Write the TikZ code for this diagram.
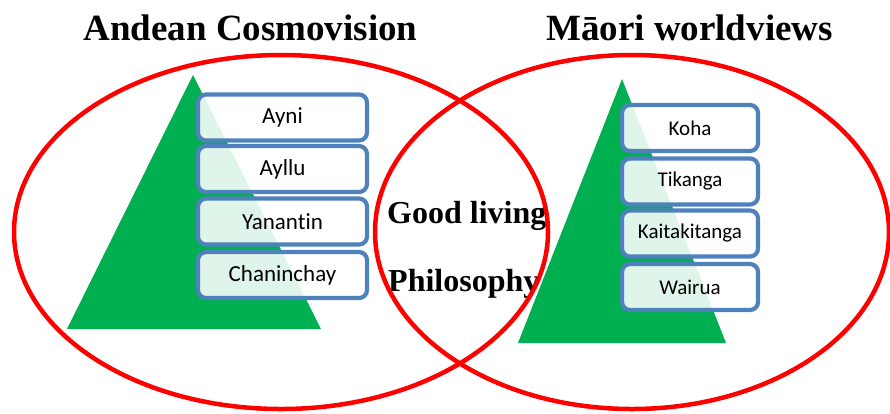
\documentclass[tikz,border=0pt]{standalone}
\usepackage{fontspec}
\setmainfont{Liberation Serif}
\newfontfamily\carl[Ligatures=NoCommon]{Carlito}
\definecolor{tgreen}{HTML}{00B050}
\definecolor{bblue}{HTML}{4F81BD}
\definecolor{rred}{HTML}{FF0000}
\begin{document}
\begin{tikzpicture}[x=1pt,y=-1pt,
  tri/.style={fill=tgreen},
  lbox/.style={draw=bblue, line width=4.2pt, rounded corners=8pt, fill=white, fill opacity=0.88, text opacity=1,
    minimum width=169pt, minimum height=46pt, inner sep=0pt, font=\carl\fontsize{23}{26}\selectfont},
  rbox/.style={lbox, minimum width=136pt, font=\carl\fontsize{21}{24}\selectfont},
  ring/.style={draw=rred, line width=4.5pt},
  title/.style={anchor=base, inner sep=0pt, font=\fontsize{37}{40}\selectfont\bfseries},
  mid/.style={anchor=base west, inner sep=0pt, font=\fontsize{32}{36}\selectfont\bfseries}]
\useasboundingbox (0,0) rectangle (890,413);
% triangles
\fill[tri] (67,329) -- (321,329) -- (193,75) -- cycle;
\fill[tri] (518,343) -- (726,343) -- (622,79) -- cycle;
% left boxes
\node[lbox] (ayni) at (282.5,117.5) {Ayni};
\node[lbox] (ayllu) at (282.5,169) {Ayllu};
\node[lbox] (yanantin) at (282.5,221.5) {Yanantin};
\node[lbox] (chaninchay) at (282.5,275) {Chaninchay};
% right boxes
\node[rbox] (koha) at (690,128) {Koha};
\node[rbox] (tikanga) at (690,181.5) {Tikanga};
\node[rbox] (kaitakitanga) at (690,233.5) {Kaitakitanga};
\node[rbox] (wairua) at (690,287) {Wairua};
% titles
\node[title] (andean) at (250.5,40) {Andean Cosmovision};
\node[title] (maori) at (689.5,40) {Māori worldviews};
% middle text
\node[mid] (good) at (387,223) {Good living};
\node[mid] (philo) at (388,291) {Philosophy};
% ellipses
\draw[ring] (281,232) ellipse [x radius=267pt, y radius=177pt];
\draw[ring] (632,232) ellipse [x radius=257pt, y radius=177pt];
\end{tikzpicture}
\end{document}
